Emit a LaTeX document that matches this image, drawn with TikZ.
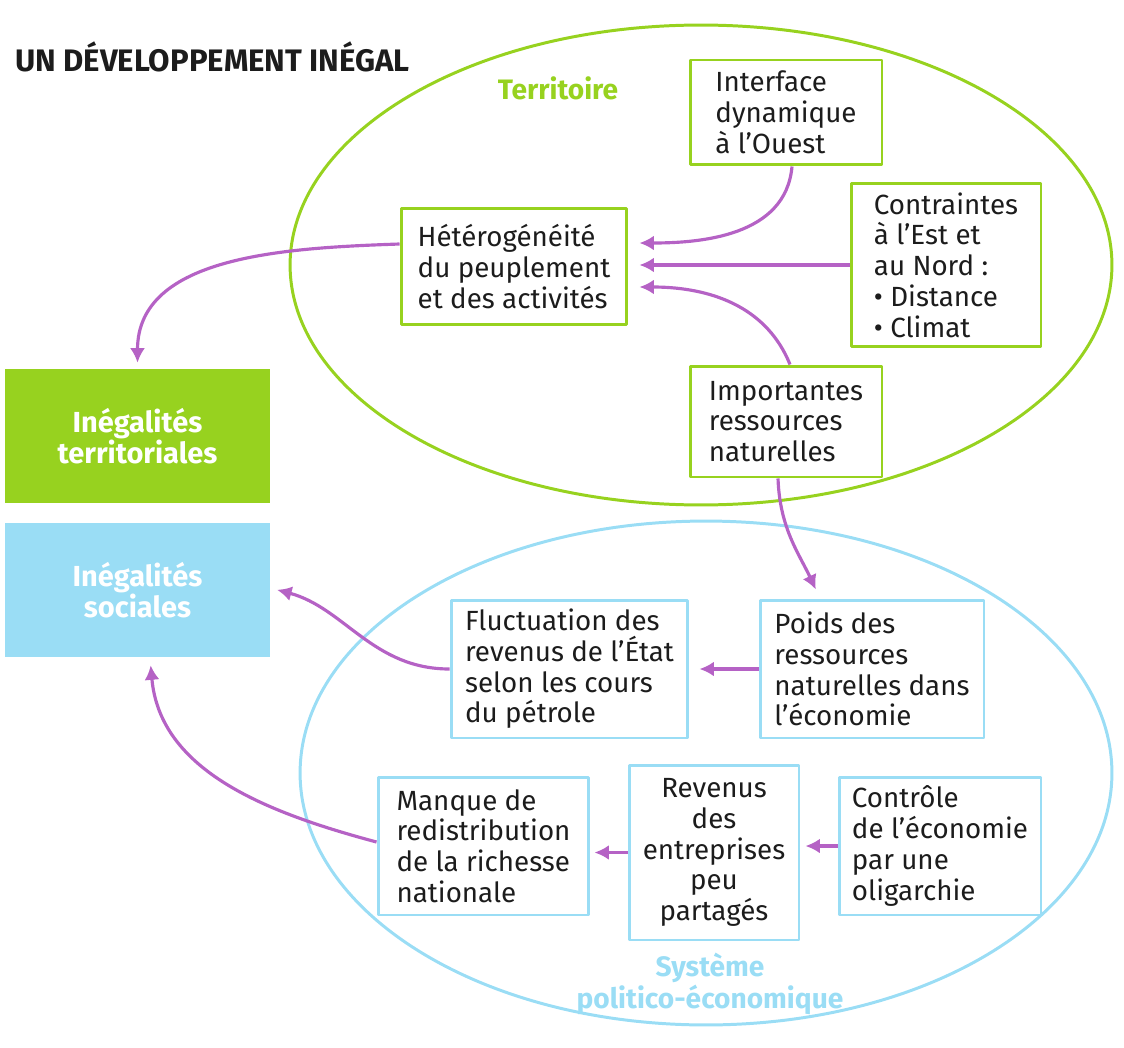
\documentclass[tikz,border=0pt]{standalone}
\usepackage{fontspec}
\setmainfont{Fira Sans}
\usetikzlibrary{arrows.meta}
\definecolor{vert}{HTML}{97D21F}
\definecolor{bleu}{HTML}{9ADDF5}
\definecolor{mauve}{HTML}{B562C5}
\definecolor{encre}{HTML}{1C1C1C}
\begin{document}
\begin{tikzpicture}[x=0.02cm,y=-0.02cm,line join=round,>={Latex[length=0.29cm,width=0.3cm]},
    cadre/.style={draw=#1,line width=1.7pt,inner sep=0pt,text=encre,align=left,
        font=\fontsize{15.8}{17.5}\selectfont},
    plein/.style={fill=#1,inner sep=0pt,text=white,align=center,minimum width=5.3cm,minimum height=2.68cm,
        font=\fontsize{16.5}{16.5}\selectfont\bfseries},
    titre/.style={text=#1,inner sep=0pt,align=center,font=\fontsize{16}{16}\selectfont\bfseries},
    fl/.style={->,draw=mauve,line width=1.8pt,shorten >=#1},
    fl/.default=0pt]
  \useasboundingbox (0,0) rectangle (1124,1047);
  \draw [vert,line width=1.7pt] (701,265) ellipse [x radius=8.22cm,y radius=4.8cm];
  \draw [bleu,line width=1.7pt] (706,773) ellipse [x radius=8.12cm,y radius=5.04cm];

  \node [anchor=west,inner sep=0pt,text=encre,font=\fontsize{17.7}{20}\selectfont\bfseries] (titre) at (15,57) {UN DÉVELOPPEMENT INÉGAL};
  \node [titre=vert] (lterr) at (558,88) {Territoire};
  \node [titre=bleu] (lsys) at (710,984) {Système\\politico-économique};

  \node [cadre=vert,minimum width=3.84cm,minimum height=2.1cm] (iface) at (786,112.5) {Interface\\dynamique\\à l’Ouest};
  \node [cadre=vert,minimum width=3.8cm,minimum height=3.28cm] (contr) at (946,265) {Contraintes\\à l’Est et\\au Nord :\\• Distance\\• Climat};
  \node [cadre=vert,minimum width=4.52cm,minimum height=2.34cm] (hetero) at (514,266.5) {Hétérogénéité\\du peuplement\\et des activités};
  \node [cadre=vert,minimum width=3.84cm,minimum height=2.22cm] (import) at (786,421.5) {Importantes\\ressources\\naturelles};

  \node [plein=vert] (terr) at (137.5,436) {Inégalités\\territoriales};
  \node [plein=bleu] (soc) at (137.5,590) {Inégalités\\sociales};

  \node [cadre=bleu,minimum width=4.74cm,minimum height=2.76cm] (fluct) at (569.5,669) {Fluctuation des\\revenus de l’État\\selon les cours\\du pétrole};
  \node [cadre=bleu,minimum width=4.48cm,minimum height=2.76cm] (poids) at (872,669) {Poids des\\ressources\\naturelles dans\\l’économie};
  \node [cadre=bleu,minimum width=4.22cm,minimum height=2.76cm] (manque) at (483.5,846) {Manque de\\redistribution\\de la richesse\\nationale};
  \node [cadre=bleu,align=center,minimum width=3.4cm,minimum height=3.5cm] (revenus) at (714,852.5) {Revenus\\des\\entreprises\\peu\\partagés};
  \node [cadre=bleu,minimum width=4.04cm,minimum height=2.76cm] (controle) at (940,846) {Contrôle\\de l’économie\\par une\\oligarchie};

  \draw [fl=0.22cm] ([xshift=0.12cm]iface.south) to[out=-95,in=0] ([yshift=0.47cm]hetero.east);
  \draw [fl=0.22cm] (contr.west) -- (contr.west -| hetero.east);
  \draw [fl=0.22cm] ([xshift=0.08cm]import.north) to[out=112,in=0] ([yshift=-0.41cm]hetero.east);
  \draw [fl=0.12cm] ([yshift=0.45cm]hetero.west) to[out=182,in=90] (terr.north);
  \draw [fl=0.2cm] ([xshift=-0.16cm]import.south) to[out=-88,in=115] ([xshift=-1.04cm]poids.north);
  \draw [fl=0.2cm] (poids.west) -- (fluct.east);
  \draw [fl=0.14cm] (fluct.west) to[out=180,in=-15] ([yshift=0.04cm]soc.east);
  \draw [fl=0.16cm] ([yshift=0.08cm]manque.west) to[out=165,in=-85] ([xshift=0.25cm]soc.south);
  \draw [fl=0.08cm] (revenus.west) -- (revenus.west -| manque.east);
  \draw [fl=0.1cm] (controle.west) -- (controle.west -| revenus.east);
\end{tikzpicture}
\end{document}
